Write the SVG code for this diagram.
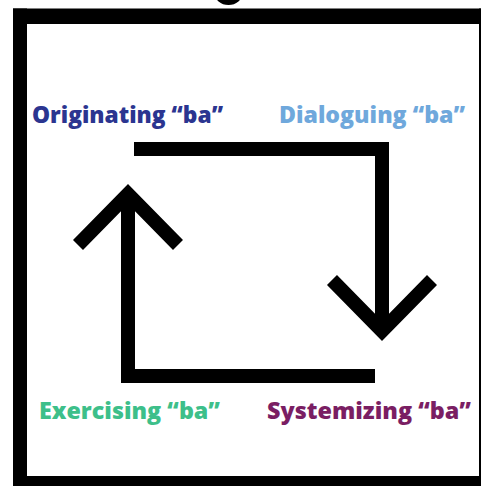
<svg xmlns="http://www.w3.org/2000/svg" width="481" height="486" viewBox="0 0 481 486">
  <defs>
    <style>
      .frame { fill: #000; }
      .flow { fill: none; stroke: #000; stroke-width: 14; stroke-linecap: butt; stroke-linejoin: miter; }
      .label { font-family: "Open Sans", "Noto Sans", "DejaVu Sans", sans-serif; font-weight: 800; font-size: 23.2px; }
    </style>
  </defs>
  <rect width="481" height="486" fill="#fff"/>

  <!-- heavy outer frame, running off the right and bottom edges -->
  <g id="frame">
    <rect class="frame" x="13" y="8.5" width="468" height="15.5"/>
    <rect class="frame" x="13" y="8.5" width="14" height="477.5"/>
    <rect class="frame" x="479" y="8.5" width="2" height="477.5"/>
    <rect class="frame" x="13" y="476" width="468" height="10"/>
    <ellipse class="frame" cx="228.5" cy="-7" rx="14" ry="12"/>
  </g>

  <!-- cycle arrows -->
  <g id="connectors">
    <path class="flow" d="M134 149 H382 V332"/>
    <path class="flow" d="M332 280 L382 331 L432 280"/>
    <path class="flow" d="M375 376 H128 V195"/>
    <path class="flow" d="M78 245 L128 194 L178 245"/>
  </g>

  <g id="originating">
    <text class="label" x="32" y="123" fill="#2b3590" textLength="191" lengthAdjust="spacingAndGlyphs">Originating “ba”</text>
  </g>
  <g id="dialoguing">
    <text class="label" x="279" y="123" fill="#6fa8dc" textLength="186" lengthAdjust="spacingAndGlyphs">Dialoguing “ba”</text>
  </g>
  <g id="exercising">
    <text class="label" x="39" y="419" fill="#3dbf8a" textLength="181" lengthAdjust="spacingAndGlyphs">Exercising “ba”</text>
  </g>
  <g id="systemizing">
    <text class="label" x="267" y="419" fill="#7a1e63" textLength="204" lengthAdjust="spacingAndGlyphs">Systemizing “ba”</text>
  </g>
</svg>
